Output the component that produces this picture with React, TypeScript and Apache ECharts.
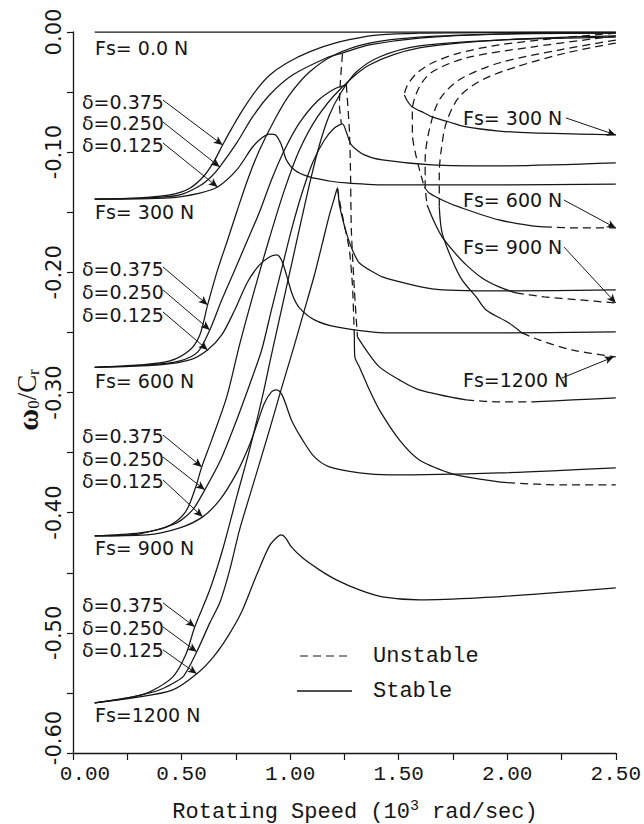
import React, { useEffect, useRef } from 'react';
import * as echarts from 'echarts';

// ---------- data (x: 10^3 rad/sec, y: w0/Cr) ----------
const fs0Line = [[0.1, 0], [2.5, 0]];

const a300 = [[0.1,-0.139],[0.308,-0.138],[0.446,-0.1356],[0.538,-0.130],[0.607,-0.119],[0.653,-0.1065],[0.689,-0.094],[0.735,-0.079],[0.781,-0.065],[0.846,-0.048],[0.905,-0.036],[0.983,-0.026],[1.089,-0.0166],[1.227,-0.0083],[1.397,-0.0025],[1.595,-0.001],[1.962,-0.0005],[2.5,-0.0003]];
const b300 = [[0.1,-0.139],[0.354,-0.138],[0.492,-0.1356],[0.584,-0.128],[0.639,-0.120],[0.676,-0.1123],[0.754,-0.0923],[0.827,-0.0707],[0.905,-0.0524],[1.011,-0.0358],[1.167,-0.0216],[1.241,-0.0175],[1.365,-0.0108],[1.595,-0.005],[1.962,-0.0017],[2.5,-0.0008]];
const c300 = [[0.1,-0.139],[0.446,-0.138],[0.584,-0.134],[0.666,-0.129],[0.754,-0.1148],[0.827,-0.0957],[0.869,-0.0882],[0.905,-0.0849],[0.933,-0.0857],[0.960,-0.094],[0.983,-0.1065],[1.020,-0.1148],[1.089,-0.1206],[1.181,-0.124],[1.259,-0.1256],[1.457,-0.1273],[1.962,-0.1273],[2.5,-0.1265]];

const a600 = [[0.1,-0.279],[0.308,-0.277],[0.446,-0.2737],[0.538,-0.2646],[0.584,-0.2521],[0.620,-0.2271],[0.666,-0.198],[0.712,-0.1731],[0.754,-0.1498],[0.804,-0.1231],[0.859,-0.0982],[0.928,-0.0732],[0.997,-0.0524],[1.089,-0.0333],[1.204,-0.0191],[1.365,-0.0092],[1.595,-0.0042],[1.962,-0.0017],[2.5,-0.001]];
const b600 = [[0.1,-0.279],[0.354,-0.277],[0.492,-0.2737],[0.575,-0.2662],[0.630,-0.2479],[0.685,-0.223],[0.745,-0.198],[0.804,-0.1731],[0.859,-0.1498],[0.914,-0.1231],[0.974,-0.0982],[1.043,-0.0757],[1.126,-0.0574],[1.204,-0.0474],[1.259,-0.0441]];
const c600 = [[0.1,-0.279],[0.400,-0.277],[0.538,-0.2729],[0.620,-0.2646],[0.685,-0.2521],[0.745,-0.2313],[0.804,-0.208],[0.859,-0.1938],[0.905,-0.1872],[0.938,-0.1855],[0.960,-0.1897],[0.983,-0.2021],[1.011,-0.2188],[1.043,-0.2296],[1.112,-0.2396],[1.213,-0.2454],[1.457,-0.2504],[1.962,-0.2504],[2.5,-0.2496]];

const a900 = [[0.1,-0.4193],[0.308,-0.4168],[0.432,-0.4118],[0.515,-0.4002],[0.561,-0.381],[0.593,-0.3619],[0.639,-0.3394],[0.708,-0.3037],[0.767,-0.2604],[0.836,-0.2146],[0.905,-0.1714],[0.974,-0.1314],[1.043,-0.0982],[1.126,-0.0707],[1.227,-0.0483],[1.365,-0.0275],[1.595,-0.0133],[1.962,-0.0067],[2.5,-0.0033]];
const b900 = [[0.1,-0.4193],[0.308,-0.4176],[0.478,-0.4085],[0.551,-0.3977],[0.607,-0.381],[0.676,-0.3577],[0.745,-0.327],[0.813,-0.2937],[0.869,-0.2646],[0.914,-0.2313],[0.960,-0.198],[1.006,-0.1647],[1.052,-0.1356],[1.103,-0.109],[1.158,-0.0899],[1.204,-0.0799],[1.241,-0.0765],[1.259,-0.0832],[1.282,-0.094],[1.342,-0.1023],[1.425,-0.1065],[1.654,-0.1106],[1.962,-0.1115],[2.5,-0.109]];
const c900 = [[0.1,-0.4193],[0.340,-0.4185],[0.492,-0.4127],[0.597,-0.4035],[0.676,-0.3894],[0.754,-0.3669],[0.813,-0.3436],[0.846,-0.327],[0.882,-0.3087],[0.914,-0.2995],[0.938,-0.2978],[0.965,-0.3028],[1.006,-0.3228],[1.057,-0.3394],[1.112,-0.3536],[1.181,-0.3619],[1.319,-0.3669],[1.457,-0.3686],[1.962,-0.3669],[2.5,-0.3627]];

const a1200 = [[0.1,-0.5582],[0.276,-0.5532],[0.354,-0.5491],[0.460,-0.5366],[0.519,-0.5183],[0.561,-0.495],[0.630,-0.4642],[0.689,-0.4309],[0.754,-0.3869],[0.813,-0.3478],[0.869,-0.3062],[0.914,-0.2687],[0.960,-0.2313],[1.006,-0.1938],[1.052,-0.1564],[1.094,-0.1231],[1.135,-0.094],[1.181,-0.0691],[1.236,-0.0499],[1.305,-0.0333],[1.411,-0.0208],[1.595,-0.0116],[1.962,-0.0067],[2.5,-0.0042]];
const b1200 = [[0.1,-0.5582],[0.276,-0.5532],[0.400,-0.5474],[0.506,-0.5366],[0.570,-0.5158],[0.630,-0.4917],[0.676,-0.475],[0.722,-0.4476],[0.767,-0.4143],[0.836,-0.3727],[0.905,-0.3311],[0.965,-0.2937],[1.020,-0.2604],[1.066,-0.2313],[1.112,-0.2022],[1.149,-0.1755],[1.181,-0.1522],[1.204,-0.1381],[1.218,-0.1298],[1.227,-0.1439],[1.259,-0.1672],[1.287,-0.1814],[1.319,-0.1922],[1.425,-0.2038],[1.654,-0.2138],[1.962,-0.2155],[2.5,-0.2146]];
const c1200 = [[0.1,-0.5582],[0.276,-0.5541],[0.460,-0.5474],[0.570,-0.5341],[0.643,-0.5208],[0.712,-0.5033],[0.777,-0.4825],[0.846,-0.4517],[0.905,-0.4276],[0.942,-0.4201],[0.960,-0.4185],[0.979,-0.421],[1.006,-0.4285],[1.057,-0.4376],[1.135,-0.4476],[1.213,-0.4559],[1.319,-0.4642],[1.425,-0.47],[1.595,-0.4725],[1.870,-0.4709],[2.146,-0.4676],[2.5,-0.4626]];

// unstable connecting branches near 1.25
const v1 = [[1.241,-0.0183],[1.232,-0.0399],[1.227,-0.0607],[1.236,-0.0765]];
const v2 = [[1.259,-0.0441],[1.273,-0.0815],[1.278,-0.1148],[1.282,-0.1647],[1.296,-0.2146],[1.310,-0.2537]];
const v3 = [[1.218,-0.1298],[1.227,-0.1398],[1.245,-0.1564],[1.273,-0.1814],[1.287,-0.2105],[1.296,-0.2537]];
const l2a = [[1.310,-0.2537],[1.356,-0.2662],[1.411,-0.2787],[1.503,-0.2895],[1.595,-0.2978],[1.811,-0.3062]];
const l2b = [[1.811,-0.3062],[1.962,-0.3078],[2.114,-0.3078]];
const l2c = [[2.114,-0.3078],[2.3,-0.3062],[2.5,-0.3045]];
const l1a = [[1.296,-0.2537],[1.298,-0.2704],[1.319,-0.2787],[1.365,-0.2978],[1.411,-0.3145],[1.503,-0.3394],[1.595,-0.3561],[1.733,-0.3669],[1.811,-0.3702],[1.962,-0.3744],[2.0,-0.375]];
const l1b = [[2.0,-0.375],[2.25,-0.3769],[2.5,-0.3769]];

// high-speed branches (labelled Fs on the right)
const d1a = [[2.5,-0.001],[2.238,-0.005],[1.962,-0.0108],[1.778,-0.0175],[1.654,-0.0258],[1.585,-0.0341],[1.549,-0.0416],[1.531,-0.0483],[1.526,-0.0524]];
const d1b = [[1.526,-0.0524],[1.540,-0.0574],[1.563,-0.0624],[1.618,-0.0674],[1.654,-0.0707],[1.733,-0.0749],[1.811,-0.079],[1.962,-0.0824],[2.114,-0.084],[2.33,-0.0849],[2.5,-0.0857]];
const d2a = [[2.5,-0.0033],[2.114,-0.0125],[1.811,-0.0216],[1.654,-0.0333],[1.595,-0.0458],[1.563,-0.0649],[1.563,-0.084],[1.581,-0.104],[1.618,-0.129]];
const d2b = [[1.618,-0.129],[1.641,-0.1339],[1.710,-0.1406],[1.778,-0.1456],[1.962,-0.1564],[2.114,-0.1614],[2.169,-0.1622]];
const d2c = [[2.169,-0.1622],[2.33,-0.1631],[2.5,-0.1631]];
const d3a = [[2.5,-0.0067],[2.238,-0.015],[1.962,-0.0258],[1.778,-0.0399],[1.687,-0.0566],[1.641,-0.0815],[1.622,-0.1065],[1.622,-0.1273],[1.631,-0.1439]];
const d3b = [[1.631,-0.1439],[1.664,-0.1581],[1.700,-0.1705],[1.755,-0.183],[1.811,-0.1938],[1.884,-0.2047],[1.962,-0.2121],[2.040,-0.2171]];
const d3c = [[2.040,-0.2171],[2.169,-0.2204],[2.33,-0.2229],[2.5,-0.2255]];
const d4a = [[2.5,-0.0092],[2.270,-0.0175],[2.040,-0.0291],[1.884,-0.0399],[1.778,-0.0541],[1.719,-0.0757],[1.696,-0.0982],[1.687,-0.1173],[1.687,-0.1456]];
const d4b = [[1.687,-0.1456],[1.700,-0.1672],[1.746,-0.1897],[1.792,-0.2063],[1.857,-0.2205],[1.903,-0.2313],[2.008,-0.2421],[2.068,-0.2504]];
const d4c = [[2.068,-0.2504],[2.146,-0.2562],[2.298,-0.2646],[2.5,-0.2704]];

// annotation arrows [startX, startY, tipX, tipY]
const deltaArrows = [
  [0.414,-0.0566,0.689,-0.094],[0.414,-0.0749,0.676,-0.1123],[0.414,-0.0923,0.666,-0.129],
  [0.414,-0.1955,0.620,-0.2271],[0.414,-0.2146,0.630,-0.2479],[0.414,-0.2329,0.620,-0.2646],
  [0.414,-0.3353,0.593,-0.3619],[0.414,-0.3536,0.607,-0.381],[0.414,-0.3727,0.597,-0.4035],
  [0.414,-0.475,0.561,-0.495],[0.414,-0.495,0.570,-0.5158],[0.414,-0.5141,0.570,-0.5341],
];
const fsArrows = [
  [2.27,-0.0715,2.5,-0.0857],[2.261,-0.1398,2.5,-0.1631],[2.261,-0.1789,2.5,-0.2255],[2.252,-0.2879,2.49,-0.2704],
];

const deltaLabels = ['δ=0.375', 'δ=0.250', 'δ=0.125'];
const staticLabels = ['Fs= 0.0 N', 'Fs= 300 N', 'Fs= 600 N', 'Fs= 900 N', 'Fs=1200 N'];
const rightLabels = ['Fs= 300 N', 'Fs= 600 N', 'Fs= 900 N', 'Fs=1200 N'];
const legendLabels = ['Unstable', 'Stable'];

// ---------- styling ----------
const INK = '#161616';
const SANS = '"DejaVu Sans", "Liberation Sans", sans-serif';
const MONO = '"Liberation Mono", "DejaVu Sans Mono", monospace';
const SERIF = '"Liberation Serif", "DejaVu Serif", serif';
const DASH = [8, 5];

function ln(data: number[][], dashed = false, smooth = 0.3, extra: any = {}) {
  return {
    type: 'line', data, symbol: 'none', showSymbol: false, smooth, clip: false, silent: true,
    lineStyle: { color: INK, width: 1.25, type: dashed ? DASH : 'solid' },
    emphasis: { disabled: true },
    ...extra,
  };
}

function txt(text: string, x: number, y: number, font: string, align = 'left') {
  return {
    type: 'text', x, y, silent: true,
    style: { text, font, fill: INK, textAlign: align, textVerticalAlign: 'middle' },
  };
}

function buildOption() {
  const arrowData = [...deltaArrows, ...fsArrows].map(a => [{ coord: [a[0], a[1]] }, { coord: [a[2], a[3]] }]);

  const series: any[] = [
    ln(fs0Line, false, 0, {
      markLine: {
        silent: true, symbol: ['none', 'arrow'], symbolSize: [6, 9], animation: false,
        label: { show: false }, emphasis: { disabled: true },
        lineStyle: { color: INK, width: 1, type: 'solid' },
        data: arrowData,
      },
    }),
    ln(a300), ln(b300), ln(c300),
    ln(a600), ln(b600), ln(c600),
    ln(a900), ln(b900, false, 0.25), ln(c900),
    ln(a1200), ln(b1200, false, 0.2), ln(c1200),
    ln(v1, true, 0.2), ln(v2, true, 0.2), ln(v3, true, 0.2),
    ln(l2a), ln(l2b, true), ln(l2c),
    ln(l1a, false, 0.25), ln(l1b, true),
    ln(d1a, true), ln(d1b),
    ln(d2a, true), ln(d2b), ln(d2c, true),
    ln(d3a, true), ln(d3b), ln(d3c, true),
    ln(d4a, true), ln(d4b), ln(d4c, true),
  ];

  const annFont = '19px ' + SANS;
  const groupY = [[102, 123, 145], [269, 292, 315], [436, 459, 481], [605, 628, 650]];
  const staticY = [48, 212, 381, 548, 715];
  const rightY = [118, 200, 247, 380];
  const graphic: any[] = [];
  staticLabels.forEach((s, i) => graphic.push(txt(s, 95, staticY[i], annFont)));
  groupY.forEach(g => g.forEach((y, j) => graphic.push(txt(deltaLabels[j], 82, y, annFont))));
  rightLabels.forEach((s, i) => graphic.push(txt(s, 463, rightY[i], annFont)));

  // legend
  graphic.push({ type: 'line', silent: true, shape: { x1: 300, y1: 656, x2: 349, y2: 656 }, style: { stroke: INK, lineWidth: 1.2, lineDash: DASH } });
  graphic.push({ type: 'line', silent: true, shape: { x1: 297, y1: 691, x2: 352, y2: 691 }, style: { stroke: INK, lineWidth: 1.3 } });
  graphic.push(txt(legendLabels[0], 373, 656, '22px ' + MONO));
  graphic.push(txt(legendLabels[1], 373, 691, '22px ' + MONO));

  // axis titles
  graphic.push({
    type: 'text', x: 355, y: 812, silent: true,
    style: {
      text: '{a|Rotating Speed (10}{s|3}{a| rad/sec)}', fill: INK, textAlign: 'center', textVerticalAlign: 'middle',
      rich: {
        a: { fontFamily: MONO, fontSize: 22, lineHeight: 26, fill: INK },
        s: { fontFamily: MONO, fontSize: 15, lineHeight: 14, verticalAlign: 'top', fill: INK },
      },
    },
  });
  graphic.push({
    type: 'text', x: 27, y: 400, rotation: Math.PI / 2, silent: true,
    style: {
      text: '{w|ω}{s|0}{c|/C}{s|r}', fill: INK, textAlign: 'center', textVerticalAlign: 'middle',
      rich: {
        w: { fontFamily: SERIF, fontSize: 30, fontWeight: 'bold', lineHeight: 30, fill: INK },
        c: { fontFamily: SERIF, fontSize: 27, lineHeight: 30, fill: INK },
        s: { fontFamily: SERIF, fontSize: 17, lineHeight: 15, verticalAlign: 'bottom', fill: INK },
      },
    },
  });

  return {
    animation: false,
    backgroundColor: '#ffffff',
    textStyle: { fontFamily: SANS },
    grid: { left: 73, right: 27, top: 32, bottom: 71, containLabel: false },
    xAxis: {
      type: 'value', min: 0, max: 2.5, interval: 0.25,
      axisLine: { show: true, onZero: false, lineStyle: { color: INK, width: 1.3 } },
      axisTick: { show: true, length: 7, lineStyle: { color: INK, width: 1.2 } },
      splitLine: { show: false },
      axisLabel: {
        margin: 11, color: INK, fontFamily: MONO, fontSize: 21, showMinLabel: true, showMaxLabel: true,
        formatter: (v: number) => {
          if (Math.round(v * 4) % 2 !== 0) return '';
          return Math.abs(v) < 1e-9 ? '{m|0.00}' : v.toFixed(2);
        },
        rich: { m: { fontFamily: MONO, fontSize: 21, color: INK, padding: [0, 0, 0, 24] } },
      },
    },
    yAxis: {
      type: 'value', min: -0.6, max: 0, interval: 0.05,
      axisLine: { show: true, onZero: false, lineStyle: { color: INK, width: 1.3 } },
      axisTick: { show: true, length: 6, lineStyle: { color: INK, width: 1.2 } },
      splitLine: { show: false },
      axisLabel: {
        rotate: 90, margin: 9, color: INK, fontFamily: SANS, fontSize: 21, showMinLabel: true, showMaxLabel: true,
        formatter: (v: number) => {
          if (Math.round(v * 20) % 2 !== 0) return '';
          if (Math.abs(v) < 1e-9) return '0.00';
          if (Math.abs(v + 0.6) < 1e-9) return '{m|-0.60}';
          return v.toFixed(2);
        },
        rich: { m: { fontFamily: SANS, fontSize: 21, color: INK, padding: [0, 0, 0, 30] } },
      },
    },
    series,
    graphic,
  };
}

export default function App() {
  const ref = useRef<HTMLDivElement>(null);
  useEffect(() => {
    if (!ref.current) return;
    const chart = echarts.init(ref.current, null, { renderer: 'svg' });
    chart.setOption(buildOption() as any);
    return () => chart.dispose();
  }, []);
  return (
    <div
      ref={ref}
      style={{ position: 'absolute', left: 0, top: 0, width: 644, height: 824, background: '#fff' }}
    />
  );
}
